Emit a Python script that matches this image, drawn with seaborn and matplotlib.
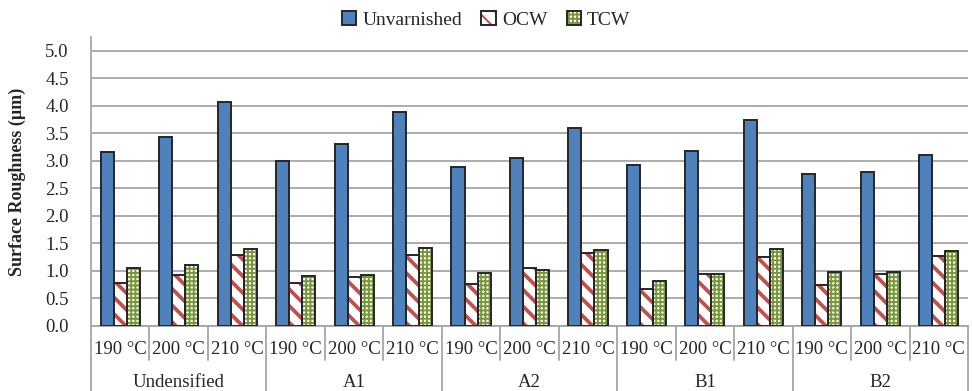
import seaborn as sns
import pandas as pd
import matplotlib.pyplot as plt
from matplotlib.patches import Rectangle, Patch
from matplotlib.legend_handler import HandlerTuple

groups = ["Undensified", "A1", "A2", "B1", "B2"]
temps = ["190 °C", "200 °C", "210 °C"]
finishes = ["Unvarnished", "OCW", "TCW"]

unvarnished = [3.16, 3.44, 4.07, 3.00, 3.30, 3.89, 2.88, 3.06, 3.59, 2.92, 3.17, 3.75, 2.76, 2.80, 3.10]
ocw = [0.78, 0.93, 1.29, 0.78, 0.89, 1.29, 0.77, 1.05, 1.32, 0.68, 0.95, 1.25, 0.75, 0.95, 1.27]
tcw = [1.05, 1.10, 1.40, 0.90, 0.92, 1.42, 0.97, 1.02, 1.38, 0.82, 0.95, 1.40, 0.98, 0.98, 1.37]

colors = {"Unvarnished": "#4F81BD", "OCW": "#C0504D", "TCW": "#77973A"}
hatches = {"Unvarnished": None, "OCW": "\\\\", "TCW": "++++"}
hatch_lw = {"Unvarnished": 1.0, "OCW": 2.7, "TCW": 1.4}

# long-form table for seaborn
slots = [f"{g}|{t}" for g in groups for t in temps]
rows = []
for name, vals in zip(finishes, [unvarnished, ocw, tcw]):
    for s, v in zip(slots, vals):
        rows.append([s, name, v])
df = pd.DataFrame(rows, columns=["Slot", "Finish", "Value"])

sns.set_style("white")
plt.rcParams["font.family"] = ["Liberation Serif", "DejaVu Serif"]
plt.rcParams["hatch.linewidth"] = 1.4


def style_hatch(p, name):
    p.set_facecolor("white")
    p.set_edgecolor(colors[name])
    p.set_hatch(hatches[name])
    p.set_linewidth(0)
    if hasattr(p, "set_hatch_linewidth"):
        p.set_hatch_linewidth(hatch_lw[name])


fig = plt.figure(figsize=(9.72, 3.91), dpi=100)
ax = fig.add_axes([91 / 972, 65 / 391, 877 / 972, 289 / 391])

sns.barplot(data=df, x="Slot", y="Value", hue="Finish", order=slots, hue_order=finishes,
            palette=colors, saturation=1, width=0.67, legend=False, ax=ax, errorbar=None)

edge = "#262626"
for container, name in zip(ax.containers, finishes):
    for p in container:
        if hatches[name]:
            style_hatch(p, name)
        else:
            p.set_linewidth(0)
        ax.add_patch(Rectangle(p.get_xy(), p.get_width(), p.get_height(),
                               fill=False, ec=edge, lw=1.4, zorder=3))

ax.set_ylim(0, 5.25)
ax.set_yticks([i * 0.5 for i in range(11)])
ax.set_yticklabels([f"{i * 0.5:.1f}" for i in range(11)], fontsize=13.5)
ax.set_xlim(-0.5, len(slots) - 0.5)
ax.set_xticks([])
ax.set_xlabel("")
ax.set_ylabel("Surface Roughness (µm)", fontsize=13, fontweight="bold", labelpad=14)
ax.yaxis.grid(True, color="#A6A6A6", lw=1.3)
ax.set_axisbelow(True)
ax.tick_params(axis="y", length=0, pad=16)
for s in ["top", "right"]:
    ax.spines[s].set_visible(False)
for s in ["left", "bottom"]:
    ax.spines[s].set_color("#A6A6A6")
    ax.spines[s].set_linewidth(1.3)

# two-level category axis
tr = ax.get_xaxis_transform()
for i in range(len(slots) + 1):
    xb = i - 0.5
    low = -0.225 if i % 3 == 0 else -0.118
    ax.plot([xb, xb], [0, low], transform=tr, color="#A6A6A6", lw=1.3, clip_on=False)
for i, s in enumerate(slots):
    ax.text(i, -0.08, temps[i % 3], transform=tr, ha="center", va="center", fontsize=13.5)
for j, g in enumerate(groups):
    ax.text(j * 3 + 1, -0.197, g, transform=tr, ha="center", va="center", fontsize=13.5)

outline = Patch(facecolor="none", edgecolor=edge, lw=1.4)
h_ocw = Patch(label="OCW")
style_hatch(h_ocw, "OCW")
h_tcw = Patch(label="TCW")
style_hatch(h_tcw, "TCW")
handles = [Patch(facecolor=colors["Unvarnished"], edgecolor=edge, lw=1.4),
           (h_ocw, outline), (h_tcw, outline)]
fig.legend(handles, finishes, loc="center", bbox_to_anchor=(0.5, 0.949), ncol=3,
           frameon=False, fontsize=14, handlelength=0.75, handleheight=0.75,
           handletextpad=0.3, columnspacing=1.0,
           handler_map={tuple: HandlerTuple(ndivide=1)})

fig.savefig("out.png", dpi=100)
